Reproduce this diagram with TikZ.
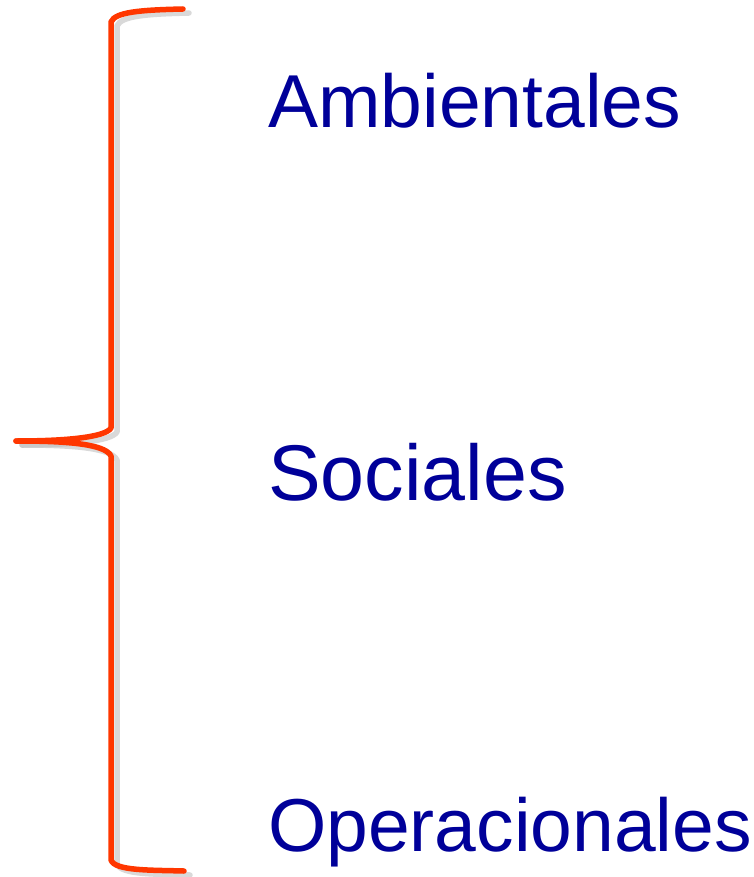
\documentclass[tikz,border=0pt]{standalone}
\usepackage{fontspec}
\setmainfont{Liberation Sans}
\definecolor{txtblue}{RGB}{0,0,153}
\definecolor{braceorange}{RGB}{255,55,0}
\begin{document}
\begin{tikzpicture}[x=1pt,y=-1pt,
  label/.style={anchor=base west,inner sep=0pt,text=txtblue,font=\fontsize{75}{80}\selectfont},
  bracepath/.style={line width=5.5pt,line cap=round,line join=round}]
\useasboundingbox (0,0) rectangle (753,877);
% shadow
\begin{scope}[shift={(6,4)}]
\draw[bracepath,black!25,opacity=0.6]
  (183,9) .. controls (140,10) and (115,12) .. (111,22)
  -- (111,428) .. controls (105,438) and (60,441) .. (16,441);
\draw[bracepath,black!25,opacity=0.6]
  (16,441) .. controls (60,441) and (105,443) .. (111,456)
  -- (111,860) .. controls (115,871) and (150,870) .. (184,871);
\end{scope}
% brace
\draw[bracepath,braceorange] coordinate (ttop) at (183,9)
  (183,9) .. controls (140,10) and (115,12) .. (111,22)
  -- (111,428) .. controls (105,438) and (60,441) .. (16,441) coordinate (tip);
\draw[bracepath,braceorange]
  (tip) .. controls (60,441) and (105,443) .. (111,456)
  -- (111,860) .. controls (115,871) and (150,870) .. (184,871) coordinate (tbot);
\node[label] (amb) at (268,128) {Ambientales};
\node[label,font=\fontsize{79}{83}\selectfont] (soc) at (268,500) {Sociales};
\node[label] (ope) at (268,851) {Operacionales};
\end{tikzpicture}
\end{document}
